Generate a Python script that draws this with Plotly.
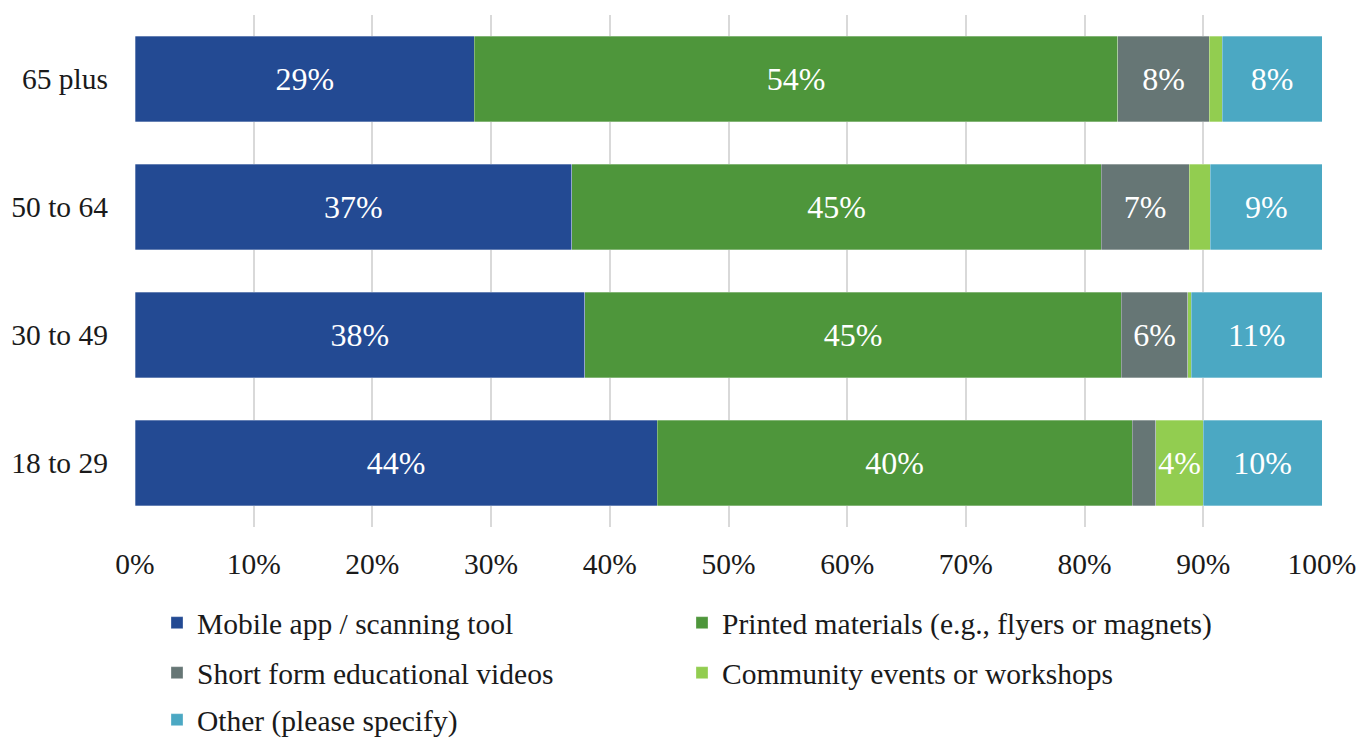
import plotly.graph_objects as go

# Age groups (bottom to top) and share of respondents per preferred resource (%)
age_groups = ["18 to 29", "30 to 49", "50 to 64", "65 plus"]

mobile_app = [44.0, 37.9, 36.8, 28.6]
printed_materials = [40.0, 45.2, 44.6, 54.2]
short_videos = [2.0, 5.6, 7.4, 7.7]
community_events = [4.0, 0.3, 1.8, 1.1]
other = [10.0, 11.0, 9.4, 8.4]

series_names = [
    "Mobile app / scanning tool",
    "Printed materials (e.g., flyers or magnets)",
    "Short form educational videos",
    "Community events or workshops",
    "Other (please specify)",
]
series_values = [mobile_app, printed_materials, short_videos, community_events, other]
series_colors = ["#234A93", "#4E963B", "#667675", "#92CD50", "#4BA8C3"]

x_ticks = list(range(0, 101, 10))
x_tick_labels = [f"{t}%" for t in x_ticks]

FONT = "Liberation Serif"
TEXT_COLOR = "#1a1a1a"

PLOT_LEFT, PLOT_RIGHT = 135, 1322
PLOT_TOP, PLOT_BOTTOM = 15, 527

# Legend entries laid out in two columns, three rows (pixel anchors of each entry)
legend_ids = ["legend", "legend2", "legend3", "legend4", "legend5"]
legend_px = [(157, 623), (682, 623), (157, 673), (682, 673), (157, 720)]

fig = go.Figure()
for name, vals, color, lg in zip(series_names, series_values, series_colors, legend_ids):
    labels = [f"{round(v)}%" if v >= 3 else "" for v in vals]
    fig.add_trace(go.Bar(
        y=age_groups,
        x=vals,
        name=name,
        orientation="h",
        marker=dict(color=color, line=dict(width=0.6, color="rgba(255,255,255,0.5)")),
        text=labels,
        textposition="inside",
        insidetextanchor="middle",
        textangle=0,
        textfont=dict(family=FONT, size=32, color="white"),
        constraintext="none",
        legend=lg,
        hoverinfo="skip",
    ))


def legend_box(px, py):
    return dict(
        orientation="h",
        xanchor="left",
        yanchor="middle",
        x=(px - PLOT_LEFT) / (PLOT_RIGHT - PLOT_LEFT),
        y=(PLOT_BOTTOM - py) / (PLOT_BOTTOM - PLOT_TOP),
        font=dict(family=FONT, size=29.5, color=TEXT_COLOR),
        itemwidth=30,
        bgcolor="rgba(0,0,0,0)",
    )


legend_layout = {lg: legend_box(px, py) for lg, (px, py) in zip(legend_ids, legend_px)}

fig.update_layout(
    width=1360,
    height=738,
    margin=dict(l=PLOT_LEFT, r=1360 - PLOT_RIGHT, t=PLOT_TOP, b=738 - PLOT_BOTTOM,
                autoexpand=False),
    paper_bgcolor="white",
    plot_bgcolor="white",
    barmode="stack",
    bargap=0.33,
    font=dict(family=FONT, size=29.5, color=TEXT_COLOR),
    showlegend=True,
    xaxis=dict(
        range=[0, 100],
        tickvals=x_ticks,
        ticktext=x_tick_labels,
        showgrid=True,
        gridcolor="#D9D9D9",
        gridwidth=1.5,
        zeroline=False,
        showline=False,
        ticks="",
        ticklabelstandoff=16,
        tickfont=dict(family=FONT, size=29.5, color=TEXT_COLOR),
        fixedrange=True,
    ),
    yaxis=dict(
        categoryorder="array",
        categoryarray=age_groups,
        showgrid=False,
        zeroline=False,
        showline=False,
        ticks="",
        ticklabelstandoff=26,
        tickfont=dict(family=FONT, size=29.5, color=TEXT_COLOR),
        fixedrange=True,
    ),
    uniformtext=dict(mode=False),
    **legend_layout,
)

fig.write_html("out.html")
